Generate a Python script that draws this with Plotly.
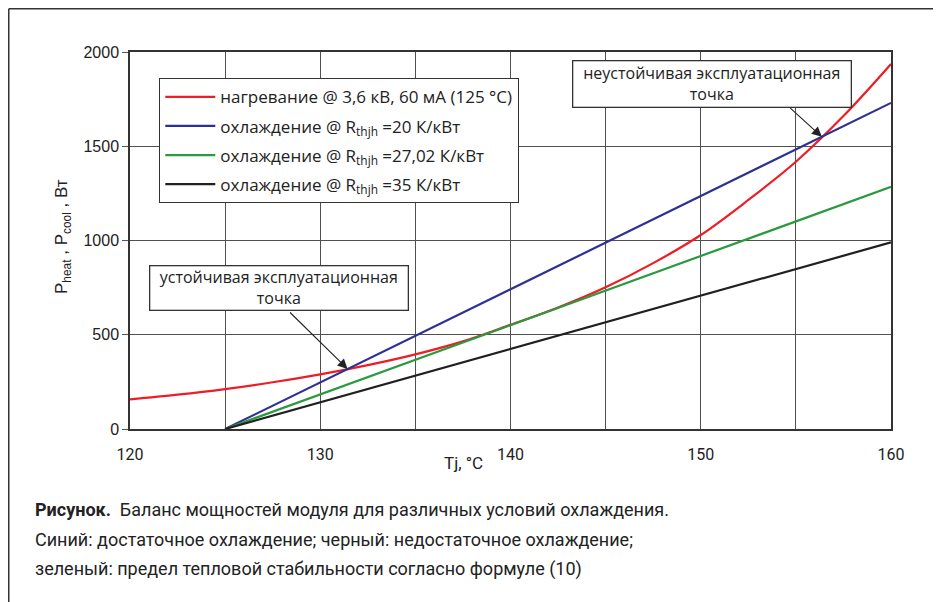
import numpy as np
import plotly.graph_objects as go

# ---- data ----
tj_heat = [120, 122.5, 125, 127.5, 130, 132.5, 135, 137.5, 140, 142.5, 145,
           147.5, 150, 152.5, 155, 157.5, 160]
p_heat = [157, 182, 212, 248, 290, 339, 396, 465, 553, 645, 752,
          880, 1029, 1215, 1418, 1660, 1936]

tj_cool = [125, 160]
p_cool_20 = [0, 1730]
p_cool_27 = [0, 1285]
p_cool_35 = [0, 990]

x_ticks = [120, 130, 140, 150, 160]
y_ticks = [0, 500, 1000, 1500, 2000]

names = [
    "нагревание @ 3,6 кВ, 60 мА (125 °C)",
    "охлаждение @ R<sub>thjh</sub> =20 К/кВт",
    "охлаждение @ R<sub>thjh</sub> =27,02 К/кВт",
    "охлаждение @ R<sub>thjh</sub> =35 К/кВт",
]
colors = ["#ee1c25", "#2e3192", "#2b9a3f", "#231f20"]

# operating points: crossings of heating curve and 20 K/kW cooling line
grid = np.linspace(125, 160, 7001)
d = np.interp(grid, tj_heat, p_heat) - np.interp(grid, tj_cool, p_cool_20)
idx = np.where(np.diff(np.sign(d)) != 0)[0]
pts = [(grid[i], float(np.interp(grid[i], tj_heat, p_heat))) for i in idx]
stable, unstable = pts[0], pts[-1]

fig = go.Figure()
fig.add_trace(go.Scatter(x=tj_heat, y=p_heat, mode="lines", name=names[0],
                         line=dict(color=colors[0], width=2.2, shape="spline"),
                         legendgroup="a"))
for nm, ys, c, g in zip(names[1:], [p_cool_20, p_cool_27, p_cool_35], colors[1:], "bcd"):
    fig.add_trace(go.Scatter(x=tj_cool, y=ys, mode="lines", name=nm,
                             line=dict(color=c, width=2.2), legendgroup=g))

gridc = "#505050"
fig.update_xaxes(range=[120, 160], tickvals=x_ticks, showgrid=True, gridcolor=gridc,
                 gridwidth=1.2, minor=dict(dtick=5, showgrid=True, gridcolor=gridc, gridwidth=1.2),
                 showline=True, mirror=True, linecolor="#333333", linewidth=1.5,
                 ticks="", zeroline=False, ticklabelstandoff=10,
                 tickfont=dict(family="Roboto", size=16, color="#222222"))
fig.update_yaxes(range=[0, 2000], tickvals=y_ticks, showgrid=True, gridcolor=gridc,
                 gridwidth=1.2, showline=True, mirror=True, linecolor="#333333", linewidth=1.5,
                 ticks="outside", ticklen=6, tickcolor="#555555", zeroline=False,
                 tickfont=dict(family="Liberation Sans", size=16, color="#222222"))

OFF = 8  # page body margin
# plot area in reference pixels: x 130..891, y 52..429
L, T = 130 - OFF, 52 - OFF
R, B = 941 - (891 - OFF), 602 - (429 - OFF)
PW, PH = 941 - L - R, 602 - T - B


def px(xp):
    return (xp - OFF - L) / PW


def py(yp):
    return (602 - B - (yp - OFF)) / PH


ann_font = dict(family="Open Sans", size=16, color="#222222")
annotations = [
    dict(xref="paper", yref="paper", x=px(463), y=py(463), text="Tj, °C", showarrow=False,
         xanchor="center", yanchor="middle",
         font=dict(family="Roboto", size=17, color="#222222")),
    dict(xref="paper", yref="paper", x=px(63), y=py(237), textangle=-90,
         xanchor="center", yanchor="middle",
         text="P<sub>heat</sub> , P<sub>cool</sub> , Вт", showarrow=False,
         font=dict(family="Liberation Sans", size=17, color="#222222")),
    dict(xref="paper", yref="paper", x=px(278.5), y=py(288), text="устойчивая эксплуатационная<br>точка",
         xanchor="center", yanchor="middle",
         showarrow=False, bordercolor="#333333", borderwidth=1.3, borderpad=1, bgcolor="white",
         width=255, height=41, font=ann_font),
    dict(xref="paper", yref="paper", x=px(711.5), y=py(84), text="неустойчивая эксплуатационная<br>точка",
         xanchor="center", yanchor="middle",
         showarrow=False, bordercolor="#333333", borderwidth=1.3, borderpad=1, bgcolor="white",
         width=275, height=43, font=ann_font),
    dict(x=stable[0], y=stable[1], ax=-59, ay=-58, text="", showarrow=True, arrowhead=2,
         arrowsize=1.8, arrowwidth=1.1, arrowcolor="#222222"),
    dict(x=unstable[0], y=unstable[1], ax=-33, ay=-30, text="", showarrow=True, arrowhead=2,
         arrowsize=1.8, arrowwidth=1.1, arrowcolor="#222222"),
]
cap_font = dict(family="Roboto", size=18, color="#222222")
captions = [
    "<b>Рисунок.</b>  Баланс мощностей модуля для различных условий охлаждения.",
    "Синий: достаточное охлаждение; черный: недостаточное охлаждение;",
    "зеленый: предел тепловой стабильности согласно формуле (10)",
]
for yv, t in zip([509, 539, 569], captions):
    annotations.append(dict(xref="paper", yref="paper", x=px(33), y=py(yv), xanchor="left",
                            yanchor="middle", text=t, showarrow=False, font=cap_font))

# outer frame (the reference frame sits just inside the page edge)
fx, fy = 0.75, 0.75  # figure pixels
shapes = [
    dict(type="line", xref="paper", yref="paper", x0=(fx - L) / PW, x1=(960 - L) / PW,
         y0=(602 - B - fy) / PH, y1=(602 - B - fy) / PH,
         line=dict(color="#333333", width=1.5)),
    dict(type="line", xref="paper", yref="paper", x0=(fx - L) / PW, x1=(fx - L) / PW,
         y0=(602 - B - fy) / PH, y1=(602 - B - 620) / PH,
         line=dict(color="#333333", width=1.5)),
]

fig.update_layout(
    width=941, height=602, margin=dict(l=L, r=R, t=T, b=B),
    paper_bgcolor="white", plot_bgcolor="white",
    showlegend=True,
    legend=dict(x=px(159), y=py(78), xanchor="left", yanchor="top",
                bordercolor="#333333", borderwidth=1.3, bgcolor="white",
                font=dict(family="Open Sans", size=17, color="#222222"),
                tracegroupgap=4, traceorder="grouped", itemwidth=50),
    annotations=annotations, shapes=shapes,
)

fig.write_html("out.html")
